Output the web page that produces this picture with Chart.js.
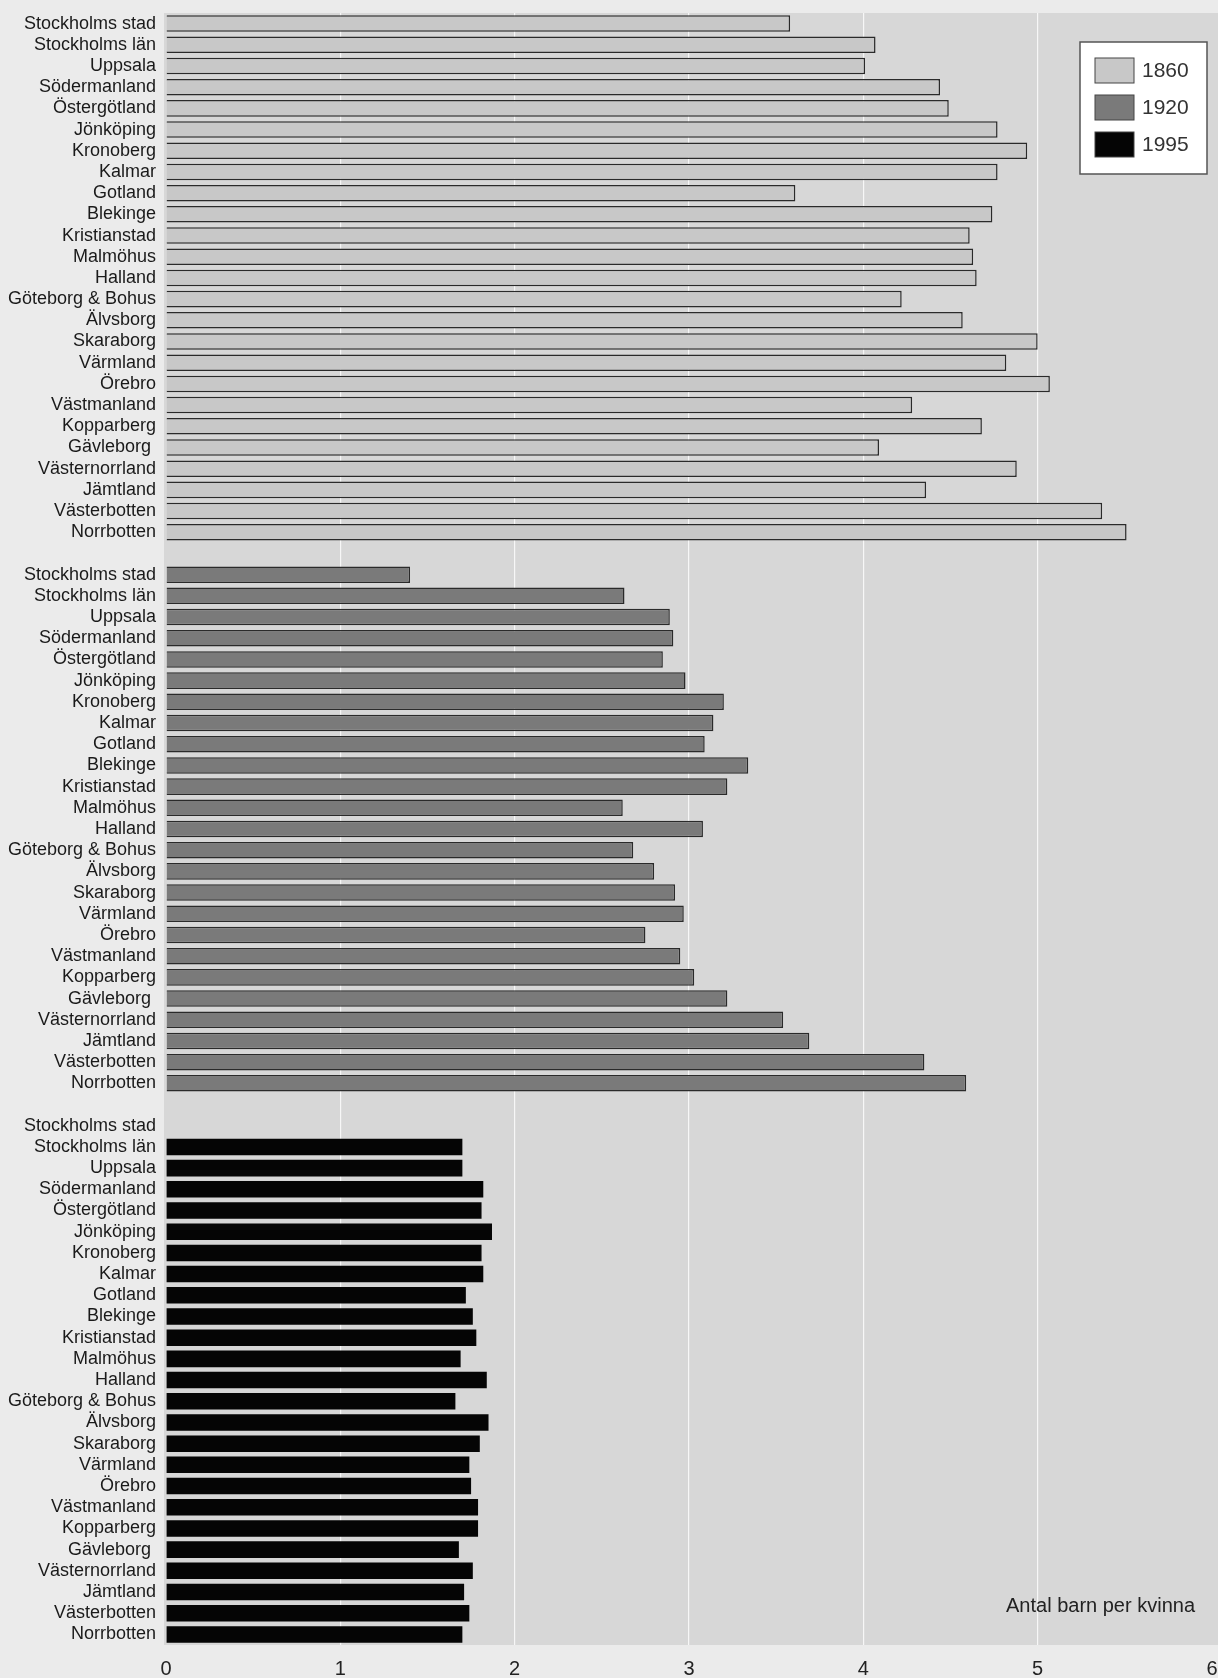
<!DOCTYPE html>
<html>
<head>
<meta charset="utf-8">
<script src="https://cdn.jsdelivr.net/npm/chart.js@4.4.1/dist/chart.umd.min.js"></script>
<style>
  html, body { margin: 0; padding: 0; background: #ebebeb; }
  #wrap { width: 1218px; height: 1678px; }
</style>
</head>
<body>
<div id="wrap"><canvas id="fertility"></canvas></div>
<script>
const counties = ["Stockholms stad", "Stockholms län", "Uppsala", "Södermanland", "Östergötland",
  "Jönköping", "Kronoberg", "Kalmar", "Gotland", "Blekinge", "Kristianstad", "Malmöhus", "Halland",
  "Göteborg & Bohus", "Älvsborg", "Skaraborg", "Värmland", "Örebro", "Västmanland", "Kopparberg",
  "Gävleborg ", "Västernorrland", "Jämtland", "Västerbotten", "Norrbotten"];
const years = ["1860", "1920", "1995"];

const tfr1860 = [3.58, 4.07, 4.01, 4.44, 4.49, 4.77, 4.94, 4.77, 3.61, 4.74, 4.61, 4.63, 4.65,
  4.22, 4.57, 5.00, 4.82, 5.07, 4.28, 4.68, 4.09, 4.88, 4.36, 5.37, 5.51];
const tfr1920 = [1.40, 2.63, 2.89, 2.91, 2.85, 2.98, 3.20, 3.14, 3.09, 3.34, 3.22, 2.62, 3.08,
  2.68, 2.80, 2.92, 2.97, 2.75, 2.95, 3.03, 3.22, 3.54, 3.69, 4.35, 4.59];
const tfr1995 = [null, 1.70, 1.70, 1.82, 1.81, 1.87, 1.81, 1.82, 1.72, 1.76, 1.78, 1.69, 1.84,
  1.66, 1.85, 1.80, 1.74, 1.75, 1.79, 1.79, 1.68, 1.76, 1.71, 1.74, 1.70];
const xTicks = [0, 1, 2, 3, 4, 5, 6];
const unitNote = "Antal barn per kvinna";

// three blocks of counties, a blank row between blocks
const labels = [...counties, "", ...counties, "", ...counties];
const pad = n => Array(n).fill(null);
const rows1860 = [...tfr1860, ...pad(52)];
const rows1920 = [...pad(26), ...tfr1920, ...pad(26)];
const rows1995 = [...pad(52), ...tfr1995];

const fills = ["#c8c8c8", "#7a7a7a", "#050505"];
const font = "'Liberation Sans', Arial, sans-serif";

const plotBg = {
  id: "plotBg",
  beforeDraw(chart) {
    const { ctx, chartArea: a } = chart;
    ctx.save();
    ctx.fillStyle = "#d7d7d7";
    ctx.fillRect(a.left - 2, a.top, chart.width - a.left + 2, a.bottom - a.top);
    ctx.restore();
  }
};

const boxLegend = {
  id: "boxLegend",
  afterDraw(chart) {
    const { ctx, chartArea: a } = chart;
    const w = 127, h = 132;
    const x = a.right - 5 - w, y = a.top + 29;
    ctx.save();
    ctx.fillStyle = "#ffffff";
    ctx.fillRect(x, y, w, h);
    ctx.strokeStyle = "#555";
    ctx.lineWidth = 1.5;
    ctx.strokeRect(x, y, w, h);
    ctx.font = "21px " + font;
    ctx.textBaseline = "middle";
    chart.data.datasets.forEach((ds, i) => {
      const sy = y + 16 + i * 37;
      ctx.fillStyle = ds.backgroundColor;
      ctx.fillRect(x + 15, sy, 39, 25);
      ctx.strokeStyle = "#444";
      ctx.lineWidth = 1;
      ctx.strokeRect(x + 15, sy, 39, 25);
      ctx.fillStyle = "#333";
      ctx.fillText(ds.label, x + 62, sy + 13);
    });
    ctx.font = "20px " + font;
    ctx.fillStyle = "#222";
    ctx.textAlign = "right";
    ctx.fillText(unitNote, a.right - 17, a.bottom - 39);
    ctx.restore();
  }
};

const ctx = document.getElementById("fertility").getContext("2d");

const fertilityChart = new Chart(ctx, {
  type: "bar",
  data: {
    labels: labels,
    datasets: [{
      label: years[0],
      data: rows1860,
      backgroundColor: fills[0],
      borderColor: "#2a2a2a",
      borderWidth: 1.5
    },
    {
      label: years[1],
      data: rows1920,
      backgroundColor: fills[1],
      borderColor: "#2a2a2a",
      borderWidth: 1.5
    },
    {
      label: years[2],
      data: rows1995,
      backgroundColor: fills[2],
      borderColor: "#000",
      borderWidth: 0
    }]
  },
  options: {
    indexAxis: "y",
    responsive: true,
    maintainAspectRatio: false,
    animation: false,
    layout: { padding: { top: 13, right: 0, left: 0, bottom: 0 } },
    datasets: {
      bar: { grouped: false, barPercentage: 0.78, categoryPercentage: 1 }
    },
    scales: {
      x: {
        min: 0,
        max: 6,
        afterBuildTicks: s => { s.ticks = xTicks.map(v => ({ value: v })); },
        afterFit: s => { s.height = 33; s.paddingRight = 6; },
        border: { display: false },
        grid: {
          drawTicks: false,
          lineWidth: 1.2,
          color: c => (c.tick.value === 0 || c.tick.value === 6) ? "rgba(0,0,0,0)" : "rgba(255,255,255,0.8)"
        },
        ticks: {
          padding: 12,
          color: "#222",
          font: { family: font, size: 20 }
        }
      },
      y: {
        afterFit: s => { s.width = 166; s.paddingTop = 0; s.paddingBottom = 0; },
        border: { display: false },
        grid: { display: false, drawTicks: false },
        ticks: {
          autoSkip: false,
          padding: 10,
          color: "#1a1a1a",
          font: { family: font, size: 18 }
        }
      }
    },
    plugins: {
      legend: { display: false },
      tooltip: { enabled: false }
    }
  },
  plugins: [plotBg, boxLegend]
});
</script>
</body>
</html>
